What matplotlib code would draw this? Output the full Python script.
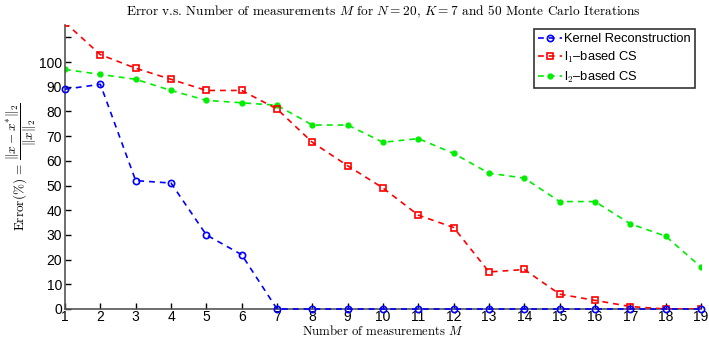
import numpy as np
import matplotlib.pyplot as plt

plt.rcParams['font.family'] = ['Liberation Sans', 'DejaVu Sans']
plt.rcParams['mathtext.fontset'] = 'cm'

# data
M = list(range(1, 20))
kernel = [89, 91, 52, 51, 30, 22, 0, 0, 0, 0, 0, 0, 0, 0, 0, 0, 0, 0, 0]
l1_cs = [116, 103, 97.5, 93, 88.5, 88.5, 81, 67.5, 58, 49, 38, 33, 15, 16, 6, 3.5, 1, 0, 0]
l2_cs = [97, 95, 93, 88.5, 84.5, 83.5, 82.5, 74.5, 74.5, 67.5, 69, 63, 55, 53, 43.5, 43.5, 34.5, 29.5, 17]

fig = plt.figure(figsize=(7.09, 3.38), dpi=100)
ax = fig.add_axes([0.0917, 0.0858, 0.8970, 0.8402])

dash = (3.5, 3)
ax.plot(M, l2_cs, color='#00ee00', ls=(0, dash), marker='.', markersize=7, lw=1.2,
        label='l$_2$–based CS', zorder=2)
ax.plot(M, l1_cs, color='red', ls=(0, dash), marker='s', markersize=4.5, mfc='none', mew=1.2, lw=1.2,
        label='l$_1$–based CS', zorder=3)
ax.plot(M, kernel, color='blue', ls=(0, dash), marker='o', markersize=4.5, mfc='none', mew=1.2, lw=1.2,
        label='Kernel Reconstruction', zorder=4, clip_on=False)

ax.set_xlim(1, 19)
ax.set_ylim(0, 115)
ax.set_xticks(M)
ax.set_yticks(np.arange(0, 111, 10))
ax.set_yticklabels([str(v) if v <= 100 else '' for v in range(0, 111, 10)])
ax.tick_params(direction='in', labelsize=10, length=4, width=1)
ax.tick_params(axis='x', pad=1)
ax.tick_params(axis='y', pad=2)
ax.spines['top'].set_visible(False)
ax.spines['right'].set_visible(False)
for s in ['left', 'bottom']:
    ax.spines[s].set_color('#555555')
    ax.spines[s].set_linewidth(1.2)

ax.set_title(r'Error v.s. Number of measurements $M$ for $N = 20$, $K = 7$ and 50 Monte Carlo Iterations',
             fontname='cmr10', fontsize=9.6, pad=7)
ax.set_xlabel(r'Number of measurements $M$', fontname='cmr10', fontsize=9.2, labelpad=-0.5)
ax.set_ylabel(r'Error(%) = $\dfrac{\|x-x^{*}\|_2}{\|x\|_2}$', fontname='cmr10', fontsize=9.5, labelpad=0)

h, l = ax.get_legend_handles_labels()
leg = ax.legend(h[::-1], l[::-1], loc='upper right', bbox_to_anchor=(0.99, 0.985),
                fontsize=9.3, frameon=True, fancybox=False, edgecolor='black',
                handlelength=1.9, handletextpad=0.15, borderpad=0.3, labelspacing=0.35, borderaxespad=0)
leg.get_frame().set_linewidth(1.2)

fig.savefig('out.png', dpi=100)
